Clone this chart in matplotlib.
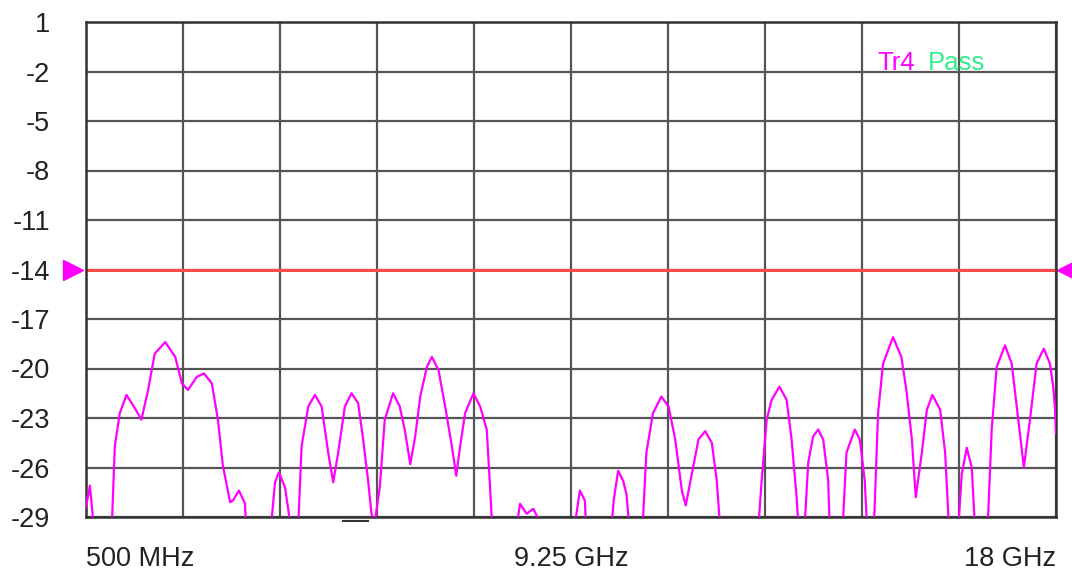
import matplotlib.pyplot as plt
from matplotlib.transforms import blended_transform_factory

plt.rcParams['font.family'] = ['Liberation Sans', 'DejaVu Sans']

# trace (GHz, dB); values below -29 are off-screen
freq = [0.50, 0.57, 0.68, 0.95, 1.02, 1.11, 1.23, 1.38, 1.50, 1.62, 1.74, 1.93,
        2.11, 2.23, 2.34, 2.50, 2.63, 2.77, 2.88, 2.97, 3.10, 3.15, 3.26, 3.37,
        3.40, 3.80, 3.91, 3.98, 4.09, 4.16, 4.22, 4.31, 4.39, 4.51, 4.63, 4.75,
        4.87, 4.96, 5.05, 5.17, 5.29, 5.41, 5.50, 5.59, 5.65, 5.71, 5.80, 5.89,
        6.04, 6.16, 6.25, 6.35, 6.44, 6.53, 6.65, 6.74, 6.86, 6.98, 7.10, 7.18,
        7.25, 7.34, 7.49, 7.61, 7.73, 7.79, 7.85, 8.21, 8.33, 8.45, 8.57, 8.69,
        8.78, 9.26, 9.34, 9.41, 9.50, 9.54, 9.95, 10.02, 10.10, 10.19, 10.25, 10.34,
        10.52, 10.61, 10.73, 10.88, 11.01, 11.13, 11.25, 11.32, 11.43, 11.55, 11.67, 11.79,
        11.88, 11.97, 12.60, 12.69, 12.78, 12.87, 13.01, 13.14, 13.23, 13.32, 13.38, 13.44,
        13.53, 13.62, 13.71, 13.80, 13.89, 13.93, 14.13, 14.22, 14.37, 14.46, 14.55, 14.61,
        14.70, 14.79, 14.88, 15.06, 15.21, 15.30, 15.40, 15.47, 15.58, 15.67, 15.77, 15.91,
        16.00, 16.09, 16.21, 16.30, 16.39, 16.48, 16.56, 16.75, 16.84, 16.93, 17.08, 17.20,
        17.32, 17.42, 17.53, 17.65, 17.78, 17.89, 17.95, 17.98, 18.00]
level = [-28.4, -27.1, -31, -31, -24.7, -22.7, -21.6, -22.4, -23.1, -21.3, -19.1, -18.4,
         -19.3, -20.9, -21.3, -20.5, -20.3, -20.9, -23.1, -25.9, -28.1, -28.0, -27.4, -28.2,
         -31, -31, -26.9, -26.3, -27.2, -28.8, -31, -31, -24.7, -22.3, -21.6, -22.3,
         -25.1, -26.9, -25.1, -22.3, -21.5, -22.1, -24.3, -26.8, -28.8, -29.3, -27.2, -23.1,
         -21.5, -22.3, -23.7, -25.8, -24.1, -21.7, -19.9, -19.3, -20.1, -22.3, -24.7, -26.5,
         -24.7, -22.7, -21.5, -22.3, -23.7, -27.2, -31, -31, -28.2, -28.8, -28.5, -29.3,
         -31, -31, -29.0, -27.4, -28.0, -31, -31, -28.0, -26.2, -26.8, -27.6, -31,
         -31, -25.1, -22.7, -21.7, -22.3, -24.3, -27.4, -28.3, -26.4, -24.3, -23.8, -24.5,
         -26.8, -31, -31, -26.8, -23.1, -21.9, -21.1, -21.9, -24.3, -27.8, -31, -31,
         -25.7, -24.1, -23.7, -24.3, -26.8, -31, -31, -25.1, -23.7, -24.3, -26.8, -31,
         -31, -22.7, -19.7, -18.1, -19.3, -21.3, -24.3, -27.8, -25.1, -22.5, -21.6, -22.5,
         -25.1, -31, -31, -26.4, -24.8, -26.0, -31, -31, -23.7, -19.9, -18.6, -19.7,
         -23.1, -26.0, -23.1, -19.7, -18.8, -19.7, -21.1, -22.3, -23.9]

limit = -14
yticks = [1, -2, -5, -8, -11, -14, -17, -20, -23, -26, -29]
xticks = [0.5 + 1.75 * i for i in range(11)]
xlabels = ['500 MHz', '', '', '', '', '9.25 GHz', '', '', '', '', '18 GHz']
bar_span = [5.14, 5.59]  # small marker bar under the axis

fig = plt.figure(figsize=(10.72, 5.71), dpi=100)
ax = fig.add_axes([86 / 1072, 1 - 517 / 571, 970 / 1072, 495 / 571])

ax.plot(freq, level, color='#ff00ff', lw=1.6, zorder=3)
ax.axhline(limit, color='#ff4a4a', lw=2.2, zorder=2)

tr = blended_transform_factory(ax.transAxes, ax.transData)
ax.plot([-0.0135], [limit], marker='>', color='#ff00ff', ms=15, transform=tr, clip_on=False)
ax.plot([1.0115], [limit], marker='<', color='#ff00ff', ms=15, transform=tr, clip_on=False)
trb = blended_transform_factory(ax.transData, ax.transAxes)
ax.plot(bar_span, [-0.008, -0.008], color='#333333', lw=1.5, transform=trb, clip_on=False)

ax.set_xlim(0.5, 18)
ax.set_ylim(-29, 1)
ax.set_yticks(yticks)
ax.set_yticklabels([str(v) for v in yticks])
ax.set_xticks(xticks)
ax.set_xticklabels(xlabels)
labs = ax.get_xticklabels()
labs[0].set_horizontalalignment('left')
labs[-1].set_horizontalalignment('right')

ax.grid(True, color='#555555', lw=1.6)
ax.set_axisbelow(True)
ax.tick_params(length=0, labelsize=19.5, colors='#222222')
ax.tick_params(axis='y', pad=26)
ax.tick_params(axis='x', pad=21)
for s in ax.spines.values():
    s.set_color('#333333')
    s.set_linewidth(1.8)

ax.text(0.8155, 0.903, 'Tr4', color='#ff00ff', fontsize=18.5, transform=ax.transAxes, va='baseline')
ax.text(0.868, 0.903, 'Pass', color='#33ee88', fontsize=18.5, transform=ax.transAxes, va='baseline')

fig.savefig('out.png', dpi=100)
